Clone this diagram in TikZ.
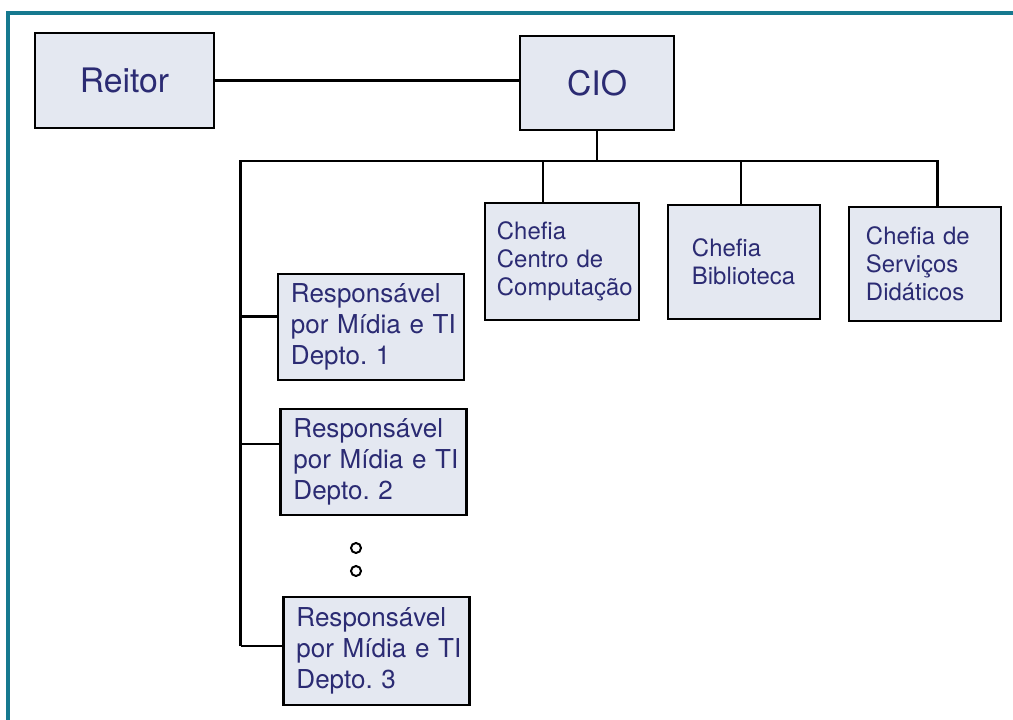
\documentclass[tikz,border=0pt]{standalone}
\usepackage{fontspec}
\setmainfont{TeX Gyre Heros}
\definecolor{boxfill}{HTML}{E4E8F1}
\definecolor{boxtext}{HTML}{2B2B73}
\definecolor{frameteal}{HTML}{16798F}
\tikzset{
  orgbox/.style={draw,line width=1.6pt,fill=boxfill,text=boxtext,align=left,execute at begin node=\frenchspacing},
  bigbox/.style={orgbox,font=\fontsize{24}{28}\selectfont},
  chefbox/.style={orgbox,font=\fontsize{17}{20}\selectfont},
  respbox/.style={orgbox,font=\fontsize{18.5}{22}\selectfont,inner xsep=0.325cm,text width=4.0cm,minimum width=4.65cm},
  wire/.style={line width=1.6pt}
}
\begin{document}
\begin{tikzpicture}[x=0.025cm,y=-0.025cm]
\useasboundingbox (0,0) rectangle (1013,720);
\draw[frameteal,line width=2.2pt] (8,720) -- (8,13) -- (1013,13);
\node[bigbox,minimum width=4.475cm,minimum height=2.375cm] (reitor) at (124.5,80.5) {Reitor};
\node[bigbox,minimum width=3.85cm,minimum height=2.35cm] (cio) at (597,83) {CIO};
\node[chefbox,inner xsep=0.3cm,text width=3.25cm,minimum height=2.925cm] (centro) at (562,261.5) {Chefia\\Centro de\\Computação};
\node[chefbox,inner xsep=0.6cm,text width=2.6cm,minimum height=2.85cm] (biblio) at (744,262) {Chefia\\Biblioteca};
\node[chefbox,inner xsep=0.425cm,text width=2.95cm,minimum height=2.85cm] (servicos) at (925,264) {Chefia de\\Serviços\\Didáticos};
\node[respbox,minimum height=2.65cm] (resp1) at (371,327) {Responsável\\\mbox{por Mídia e TI}\\Depto. 1};
\node[respbox,minimum height=2.65cm] (resp2) at (373.5,462) {Responsável\\\mbox{por Mídia e TI}\\Depto. 2};
\node[respbox,minimum height=2.7cm] (resp3) at (376.5,651) {Responsável\\\mbox{por Mídia e TI}\\Depto. 3};
\node[draw,circle,line width=1.4pt,fill=white,inner sep=0pt,minimum size=0.25cm] (dot1) at (356,548) {};
\node[draw,circle,line width=1.4pt,fill=white,inner sep=0pt,minimum size=0.25cm] (dot2) at (356,571) {};
\coordinate (barL) at (240.5,161);
\coordinate (barR) at (937.5,161);
\coordinate (dropA) at (543,161);
\coordinate (dropB) at (741,161);
\coordinate (spine1) at (240.5,316.5);
\coordinate (spine2) at (240.5,444);
\coordinate (spine3) at (240.5,646);
\draw[wire] (reitor.east) -- (reitor.east -| cio.west);
\draw[wire] (cio.south) -- (cio.south |- barL);
\draw[wire] (spine3) -- (barL) -- (barR) -- (barR |- servicos.north);
\draw[wire] (dropA) -- (dropA |- centro.north);
\draw[wire] (dropB) -- (dropB |- biblio.north);
\draw[wire] (spine1) -- (spine1 -| resp1.west);
\draw[wire] (spine2) -- (spine2 -| resp2.west);
\draw[wire] (spine3) -- (spine3 -| resp3.west);
\end{tikzpicture}
\end{document}
